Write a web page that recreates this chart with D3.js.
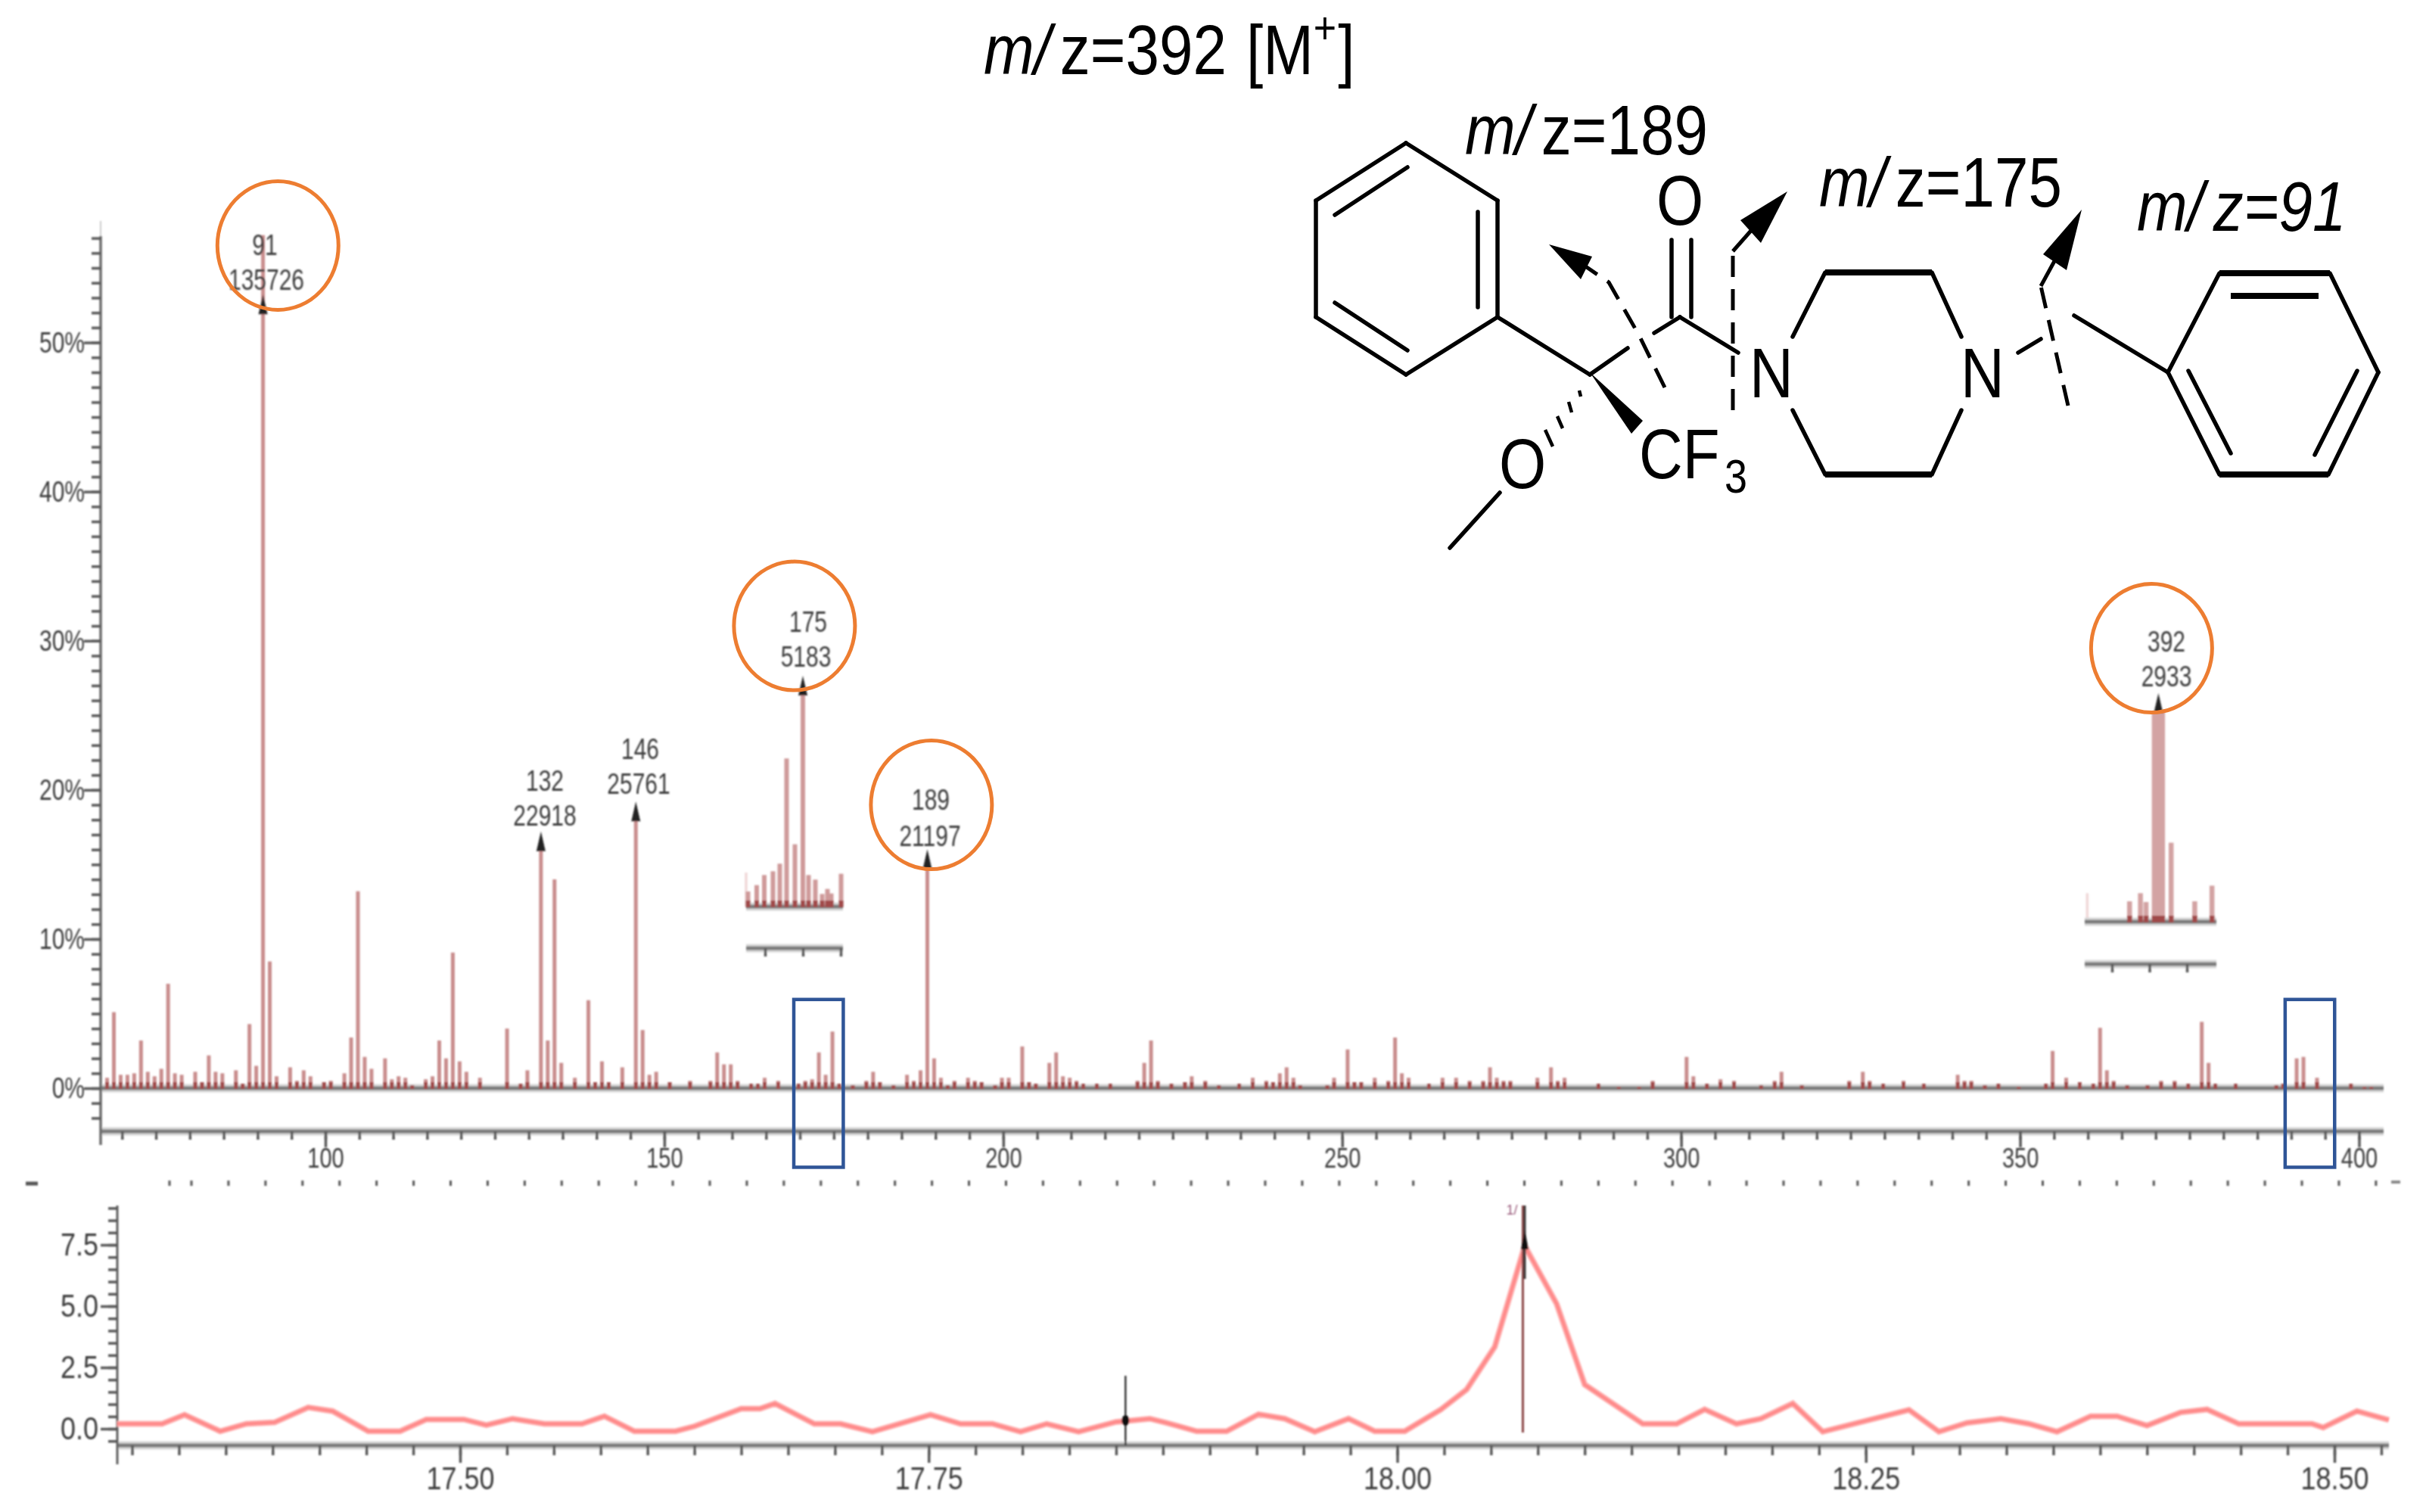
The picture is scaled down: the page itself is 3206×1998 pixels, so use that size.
<!DOCTYPE html>
<html>
<head>
<meta charset="utf-8">
<script src="https://cdn.jsdelivr.net/npm/d3@7"></script>
<style>
  body { margin: 0; background: #fff; }
  svg { display: block; }
  .tick text { font-family: "Liberation Sans", Arial, sans-serif; fill: #3c3c3c; }
  .lab { font-family: "Liberation Sans", Arial, sans-serif; font-size: 30px; fill: #3c3c3c; text-anchor: middle; }
  .mol { font-family: "Liberation Sans", Arial, sans-serif; font-size: 80px; fill: #000; }
</style>
</head>
<body>
<div id="chart"></div>
<script>
// main mass spectrum, m/z and %
const mainMz = [68,69,70,71,72,73,74,75,76,77,78,79,81,82,83,84,85,87,88,89,90,91,92,93,95,96,97,98,100,101,103,104,105,106,107,109,110,111,112,113,115,116,117,118,119,120,121,123,127,129,130,132,133,134,135,137,139,140,141,142,144,146,147,148,149,151,154,157,158,159,160,161,163,164,165,167,170,171,172,173,174,175,
  176,178,180,181,182,184,186,187,188,189,190,191,192,193,195,196,197,199,200,201,203,204,205,207,208,209,210,211,212,214,216,220,221,222,223,225,227,228,230,232,235,237,239,240,241,242,243,244,248,249,251,252,253,255,257,258,259,260,263,265,267,269,271,272,273,274,275,279,281,282,283,288,291,294,296,
  301,302,304,306,308,312,314,315,318,325,327,328,330,333,336,341,342,343,345,347,350,354,355,357,359,361,362,363,364,366,369,371,373,375,377,378,379,382,388,389,391,392,394,399,401,402];
const mainPct = [0.7,5.1,0.9,0.9,1.0,3.2,1.1,0.8,1.3,7.0,1.0,0.9,1.1,0.4,2.2,1.1,1.0,1.2,0.3,4.3,1.5,57.2,8.5,0.8,1.4,0.5,1.2,0.8,0.4,0.5,1.0,3.4,13.2,2.1,1.3,2.0,0.6,0.8,0.7,0.2,0.6,0.8,3.2,2.0,9.1,1.8,1.1,0.7,4.0,0.3,1.2,16.0,3.2,14.0,1.7,0.7,5.9,0.4,1.8,0.4,1.4,18.0,3.9,0.9,1.1,0.4,0.5,0.5,2.4,1.6,1.6,0.5,0.3,0.3,0.7,0.5,0.3,0.5,0.6,2.4,0.9,3.8,
  0.3,0.2,0.5,1.1,0.4,0.2,0.9,0.5,1.2,14.8,2.0,0.7,0.2,0.5,0.7,0.5,0.4,0.2,0.7,0.7,2.8,0.4,0.3,1.7,2.4,0.8,0.7,0.5,0.3,0.3,0.3,0.5,1.7,3.2,0.5,0.3,0.4,0.8,0.5,0.2,0.3,0.7,0.5,0.4,1.0,1.4,0.7,0.2,0.2,0.7,2.6,0.4,0.4,0.7,0.5,3.4,1.0,0.7,0.3,0.7,0.7,0.5,0.5,1.4,0.7,0.5,0.5,0.7,1.4,0.5,0.7,0.3,0.1,0.1,0.5,
  2.1,0.8,0.3,0.6,0.5,0.2,0.5,1.1,0.2,0.5,1.1,0.5,0.3,0.5,0.3,0.9,0.5,0.5,0.2,0.3,0.1,0.3,2.5,0.7,0.4,0.3,4.05,1.2,0.5,0.2,0.2,0.5,0.5,0.3,4.45,1.7,0.3,0.3,0.2,0.3,2.0,2.1,0.7,0.3,0.1,0.1];

const xMajor = [100,150,200,250,300,350,400];
const yMajor = [0,10,20,30,40,50];

// peak labels: m/z, counts, and the % where the arrow sits
const labelMz = [91,132,146,175,189,392];
const labelCounts = ["135726","22918","25761","5183","21197","2933"];
const arrowMz = [91,132,146,189];
const arrowPct = [52,16,18,14.8];

// zoomed in bits of the spectrum
const inset175Mz = [173.55,173.78,173.98,174.21,174.39,174.57,174.79,175,175.15,175.33,175.51,175.65,175.75,176.01];
const inset175Counts = [369,523,769,861,1046,3610,1519,5183,769,658,308,430,320,800];
const inset392Mz = [391.47,391.76,391.91,392.13,392.24,392.35,392.58,393.21,393.67];
const inset392Counts = [285,398,275,2933,2933,2933,1102,285,503];

// chromatogram
const tic = [17.317,17.341,17.353,17.372,17.386,17.401,17.419,17.432,17.451,17.468,17.482,17.502,17.514,17.528,17.545,17.565,17.577,17.593,17.615,17.625,17.650,17.660,17.668,17.689,17.703,17.720,17.751,17.767,17.784,17.799,17.813,17.830,17.850,17.868,17.876,17.893,17.909,17.926,17.940,17.956,17.974,17.988,18.004,18.023,18.037,18.052,18.068,18.085,18.100,18.131,18.149,18.164,18.181,18.194,18.211,18.227,18.273,18.289,18.304,18.322,18.337,18.352,18.370,18.384,18.400,18.418,18.432,18.449,18.488,18.494,18.512,18.529];
const ticVal = [0.2,0.2,0.57,-0.1,0.2,0.26,0.87,0.72,-0.1,-0.1,0.38,0.38,0.15,0.41,0.2,0.2,0.51,-0.1,-0.1,0.1,0.82,0.82,1.03,0.2,0.2,-0.12,0.57,0.2,0.2,-0.12,0.2,-0.12,0.28,0.41,0.26,-0.1,-0.1,0.59,0.41,-0.12,0.41,-0.1,-0.1,0.77,1.6,3.34,7.46,5.1,1.8,0.2,0.2,0.79,0.2,0.41,1.03,-0.12,0.77,-0.12,0.24,0.41,0.2,-0.12,0.51,0.51,0.13,0.67,0.79,0.2,0.2,0.05,0.72,0.36];
const ticTicks = [17.50,17.75,18.00,18.25,18.50];
const ticYTicks = [0,2.5,5,7.5];

const W = 3206, H = 1998;
const svg = d3.select("#chart").append("svg").attr("width", W).attr("height", H);

const defs = svg.append("defs");
defs.append("filter").attr("id", "soft").append("feGaussianBlur").attr("stdDeviation", 1);

const x = d3.scaleLinear().domain([100, 400]).range([430, 3117.5]);
const y = d3.scaleLinear().domain([0, 50]).range([1438, 452.6]);
const tx = d3.scaleLinear().domain([17.5, 18.5]).range([608, 3085]);
const ty = d3.scaleLinear().domain([0, 7.5]).range([1888, 1645]);
const ix175 = d3.scaleLinear().domain([174, 176]).range([1011, 1111]);
const iy175 = d3.scaleLinear().domain([0, 5183]).range([1198, 917]);
const ix392 = d3.scaleLinear().domain([391, 393]).range([2791, 2890]);
const iy392 = d3.scaleLinear().domain([0, 2933]).range([1218, 940]);

const plot = svg.append("g").attr("filter", "url(#soft)");

// grey axis band with a pale edge
function band(g, x1, x2, yy) {
  g.append("line").attr("x1", x1).attr("x2", x2).attr("y1", yy).attr("y2", yy).attr("stroke", "#d8d8d8").attr("stroke-width", 11);
  g.append("line").attr("x1", x1).attr("x2", x2).attr("y1", yy).attr("y2", yy).attr("stroke", "#7c7c7c").attr("stroke-width", 5);
}

// the picture's numbers are tall and thin, so stretch the tick text
function styleAxis(g, size, sy) {
  g.select(".domain").remove();
  g.selectAll(".tick line").attr("stroke", "#585858").attr("stroke-width", 3.5);
  g.selectAll(".tick text").style("font-size", size + "px").each(function () {
    const t = d3.select(this);
    const px = +t.attr("x") || 0, py = +t.attr("y") || 0;
    t.attr("x", 0).attr("y", 0).attr("transform", `translate(${px},${py}) scale(1,${sy || 1})`);
  });
}

band(plot, 133, 3150, y(0));
band(plot, 133, 3150, 1495);

plot.append("line").attr("x1", 133).attr("x2", 133).attr("y1", 312).attr("y2", 1513).attr("stroke", "#6a6a6a").attr("stroke-width", 3.5);
plot.append("line").attr("x1", 133).attr("x2", 133).attr("y1", 292).attr("y2", 312).attr("stroke", "#ccc").attr("stroke-width", 2);

// main x axis
plot.append("g").attr("transform", "translate(0,1495)")
  .call(d3.axisBottom(x).tickValues(d3.range(70, 401, 5)).tickSize(11).tickFormat(""))
  .call(g => styleAxis(g, 29));
plot.append("g").attr("transform", "translate(0,1495)")
  .call(d3.axisBottom(x).tickValues(xMajor).tickSize(21).tickPadding(1))
  .call(g => styleAxis(g, 29, 1.25));

// main y axis
plot.append("g").attr("transform", "translate(133,0)")
  .call(d3.axisLeft(y).tickValues(d3.range(-2, 58)).tickSize(12).tickFormat(""))
  .call(g => styleAxis(g, 29));
plot.append("g").attr("transform", "translate(133,0)")
  .call(d3.axisLeft(y).tickValues(yMajor).tickSize(22).tickPadding(-1).tickFormat(d => d + "%"))
  .call(g => styleAxis(g, 30, 1.3));

// spectrum
function sticks(g, mz, val, sx, sy, width, colour) {
  g.selectAll(null).data(mz).enter().append("line")
    .attr("x1", d => sx(d)).attr("x2", d => sx(d))
    .attr("y1", sy(0)).attr("y2", (d, i) => sy(val[i]))
    .attr("stroke", colour).attr("stroke-width", width);
  g.selectAll(null).data(mz).enter().append("line")
    .attr("x1", d => sx(d)).attr("x2", d => sx(d))
    .attr("y1", sy(0) + 1).attr("y2", (d, i) => Math.max(sy(val[i]), sy(0) - 8))
    .attr("stroke", "#a04a4a").attr("stroke-width", width);
}
// picture's sticks sit a little left of the axis numbers
const xPeak = d => x(d - 0.2);
sticks(plot, mainMz, mainPct, xPeak, y, 5, "#c98d8d");

// pale stubs where the insets were cut out of the spectrum
plot.append("line").attr("x1", ix175(173.5)).attr("x2", ix175(173.5)).attr("y1", iy175(0)).attr("y2", iy175(830)).attr("stroke", "#f0d8d8").attr("stroke-width", 3.5);
plot.append("line").attr("x1", ix392(390.34)).attr("x2", ix392(390.34)).attr("y1", iy392(0)).attr("y2", iy392(398)).attr("stroke", "#f0d8d8").attr("stroke-width", 3.5);

// inset m/z=175
band(plot, 986, 1114, iy175(0));
band(plot, 986, 1114, 1253);
plot.append("g").attr("transform", "translate(0,1253)")
  .call(d3.axisBottom(ix175).tickValues([174, 175, 176]).tickSize(11).tickFormat(""))
  .call(g => styleAxis(g, 30));
sticks(plot, inset175Mz, inset175Counts, ix175, iy175, 6, "#cf9a9a");

// inset m/z=392
band(plot, 2755, 2929, iy392(0));
band(plot, 2755, 2929, 1274);
plot.append("g").attr("transform", "translate(0,1274)")
  .call(d3.axisBottom(ix392).tickValues([391, 392, 393]).tickSize(11).tickFormat(""))
  .call(g => styleAxis(g, 30));
sticks(plot, inset392Mz, inset392Counts, ix392, iy392, 6.5, "#d3a3a3");

// arrows on labelled peaks
function arrow(g, px, py) {
  g.append("path").attr("d", `M${px},${py - 24} L${px + 6},${py + 2} L${px - 6},${py + 2} Z`).attr("fill", "#222");
}
arrowMz.forEach((m, i) => arrow(plot, xPeak(m), y(arrowPct[i])));
arrow(plot, ix175(175), iy175(5183));
arrow(plot, ix392(392.24), iy392(2933));

// peak labels
const labelX = [[350, 352], [720, 720], [846, 844], [1068, 1065], [1230, 1229], [2863, 2863]];
const labelY = [[323, 369], [1031, 1077], [989, 1035], [821, 867], [1056, 1104], [847, 893]];
function peakLabel(px, py, txt) {
  plot.append("text").attr("class", "lab")
    .attr("transform", `translate(${px},${py}) scale(1,1.3)`)
    .attr("dy", "0.36em").text(txt);
}
labelMz.forEach((m, i) => {
  peakLabel(labelX[i][0], labelY[i][0], m);
  peakLabel(labelX[i][1], labelY[i][1], labelCounts[i]);
});

// cut off axis between the two panes
const stubs = [224].concat(d3.range(253, 3141, 48.93));
plot.selectAll(null).data(stubs).enter().append("line")
  .attr("x1", d => d).attr("x2", d => d).attr("y1", 1560).attr("y2", 1567)
  .attr("stroke", "#555").attr("stroke-width", 3);
plot.append("line").attr("x1", 34).attr("x2", 50).attr("y1", 1564).attr("y2", 1564).attr("stroke", "#555").attr("stroke-width", 5);
plot.append("line").attr("x1", 3160).attr("x2", 3172).attr("y1", 1562).attr("y2", 1562).attr("stroke", "#888").attr("stroke-width", 4);

// chromatogram axes
band(plot, 155, 3157, 1910);
plot.append("line").attr("x1", 155).attr("x2", 155).attr("y1", 1593).attr("y2", 1935).attr("stroke", "#5c5c5c").attr("stroke-width", 3);
plot.append("g").attr("transform", "translate(0,1910)")
  .call(d3.axisBottom(tx).tickValues(d3.range(17.325, 18.53, 0.025)).tickSize(13).tickFormat(""))
  .call(g => styleAxis(g, 36));
plot.append("g").attr("transform", "translate(0,1910)")
  .call(d3.axisBottom(tx).tickValues(ticTicks).tickSize(23).tickPadding(5).tickFormat(d3.format(".2f")))
  .call(g => styleAxis(g, 36, 1.18));
plot.append("g").attr("transform", "translate(155,0)")
  .call(d3.axisLeft(ty).tickValues(d3.range(-0.5, 9.1, 0.5)).tickSize(12).tickFormat(""))
  .call(g => styleAxis(g, 36));
plot.append("g").attr("transform", "translate(155,0)")
  .call(d3.axisLeft(ty).tickValues(ticYTicks).tickSize(22).tickPadding(3).tickFormat(d3.format(".1f")))
  .call(g => styleAxis(g, 36, 1.18));

// chromatogram trace
const trace = d3.line().x((d, i) => tx(tic[i])).y((d, i) => ty(ticVal[i]));
plot.append("path").datum(tic).attr("d", trace).attr("fill", "none").attr("stroke", "#ffb4b4").attr("stroke-width", 8);
plot.append("path").datum(tic).attr("d", trace).attr("fill", "none").attr("stroke", "#ff8a8a").attr("stroke-width", 4.5);

// retention time markers
plot.append("line").attr("x1", tx(18.067)).attr("x2", tx(18.067)).attr("y1", 1593).attr("y2", 1893).attr("stroke", "#8c4a4a").attr("stroke-width", 3);
plot.append("line").attr("x1", tx(18.068)).attr("x2", tx(18.068)).attr("y1", 1593).attr("y2", 1690).attr("stroke", "#333").attr("stroke-width", 3);
plot.append("path").attr("d", `M${tx(18.068)},${1625} l5,26 l-10,0 Z`).attr("fill", "#111");
plot.append("text").attr("x", tx(18.067) - 22).attr("y", 1605).attr("fill", "#9a5c7c").style("font-size", "18px").style("font-family", "Liberation Sans").text("1/");
plot.append("line").attr("x1", tx(17.855)).attr("x2", tx(17.855)).attr("y1", 1818).attr("y2", 1910).attr("stroke", "#333").attr("stroke-width", 2.5);
plot.append("ellipse").attr("cx", tx(17.855)).attr("cy", 1877).attr("rx", 5).attr("ry", 7).attr("fill", "#111");

// orange rings round the fragments
const ringMz = [93, 169.2, 189.4, 369.4];
const ringPct = [56.5, 31, 19, 29.5];
svg.selectAll(null).data(ringMz).enter().append("ellipse")
  .attr("cx", d => x(d)).attr("cy", (d, i) => y(ringPct[i]))
  .attr("rx", 80).attr("ry", 85)
  .attr("fill", "none").attr("stroke", "#ed7d31").attr("stroke-width", 5);

// blue boxes
const boxMz = [[169.1, 176.4], [389.1, 396.4]];
svg.selectAll(null).data(boxMz).enter().append("rect")
  .attr("x", d => x(d[0])).attr("width", d => x(d[1]) - x(d[0]))
  .attr("y", y(5.95)).attr("height", y(-5.3) - y(5.95))
  .attr("fill", "none").attr("stroke", "#2f5597").attr("stroke-width", 4.5);

// text with the same tall stretch as the picture
function molText(px, py, parts, anchor) {
  const t = svg.append("text").attr("class", "mol").attr("transform", `translate(${px},${py}) scale(1,1.15)`)
    .attr("text-anchor", anchor || "start");
  parts.forEach(p => {
    const s = t.append("tspan").text(p.t);
    if (p.i) s.style("font-style", "italic");
    if (p.dx) s.attr("dx", p.dx);
    if (p.dy) s.attr("dy", p.dy);
    if (p.size) s.style("font-size", p.size + "px");
  });
  return t;
}
const mzPrefix = [{ t: "m/", i: true }, { t: "z", dx: 12 }];
molText(1300, 98, mzPrefix.concat([{ t: "=392" }, { t: "[M", dx: 26 }, { t: "+", size: 52, dy: -36 }, { t: "]", dy: 36, dx: 2 }]));
molText(1936, 204, mzPrefix.concat([{ t: "=189" }]));
molText(2404, 273, mzPrefix.concat([{ t: "=175" }]));
molText(2824, 305, [{ t: "m/", i: true }, { t: "z=91", i: true, dx: 12 }]);

molText(2220, 297, [{ t: "O" }], "middle");
molText(2012, 645, [{ t: "O" }], "middle");
molText(2341, 525, [{ t: "N" }], "middle");
molText(2620, 525, [{ t: "N" }], "middle");
molText(2166, 632, [{ t: "CF" }]);
molText(2279, 651, [{ t: "3", size: 54 }]);

// structure drawn by hand
const bonds = [
  [1858,189,1979,265],[1979,265,1979,419],[1979,419,1858,495],[1858,495,1739,419],[1739,419,1739,265],[1739,265,1858,189],
  [1953,280,1953,406],[1764,284,1860,221],[1764,400,1860,463],
  [1979,419,2101,495],[2101,495,2151,460],[2186,440,2220,419],[2220,419,2297,466],
  [2209,317,2209,419],[2235,317,2235,419],
  [1982,651,1916,724],
  [2369,445,2412,360],[2553,360,2592,445],[2369,542,2412,627],[2553,627,2592,542],
  [2667,466,2697,448],[2741,417,2865,492],
  [2865,492,2933,361],[3079,361,3143,492],[3143,492,3077,627],[2933,627,2865,492],
  [2892,490,2948,599],[3115,490,3059,601]
];
const thickBonds = [[2412,360,2553,360],[2412,627,2553,627],[2933,361,3079,361],[2948,391,3064,391],[2933,627,3077,627]];
const hashes = [[2087,516,2089,524],[2073,531,2077,545],[2058,550,2065,566],[2042,568,2052,590]];
svg.selectAll(null).data(bonds).enter().append("line").attr("x1", d => d[0]).attr("y1", d => d[1]).attr("x2", d => d[2]).attr("y2", d => d[3]).attr("stroke", "#000").attr("stroke-width", 5.5).attr("stroke-linecap", "round");
svg.selectAll(null).data(thickBonds).enter().append("line").attr("x1", d => d[0]).attr("y1", d => d[1]).attr("x2", d => d[2]).attr("y2", d => d[3]).attr("stroke", "#000").attr("stroke-width", 8);
svg.selectAll(null).data(hashes).enter().append("line").attr("x1", d => d[0]).attr("y1", d => d[1]).attr("x2", d => d[2]).attr("y2", d => d[3]).attr("stroke", "#000").attr("stroke-width", 4.5);
svg.append("path").attr("d", "M2101,492 L2171,556 L2156,573 Z").attr("fill", "#000");

// cleavage arrows
const dashLine = d3.line();
svg.append("path").attr("d", dashLine([[2200,512],[2166,443],[2126,373],[2085,345]])).attr("fill", "none").attr("stroke", "#000").attr("stroke-width", 5).attr("stroke-dasharray", "28 16");
svg.append("path").attr("d", "M2047,323 L2104,339 L2089,369 Z").attr("fill", "#000");
svg.append("path").attr("d", dashLine([[2290,542],[2290,332]])).attr("fill", "none").attr("stroke", "#000").attr("stroke-width", 5).attr("stroke-dasharray", "28 16");
svg.append("line").attr("x1", 2290).attr("y1", 332).attr("x2", 2320).attr("y2", 298).attr("stroke", "#000").attr("stroke-width", 5);
svg.append("path").attr("d", "M2362,253 L2300,291 L2327,321 Z").attr("fill", "#000");
svg.append("path").attr("d", dashLine([[2733,536],[2697,378]])).attr("fill", "none").attr("stroke", "#000").attr("stroke-width", 5).attr("stroke-dasharray", "28 16");
svg.append("line").attr("x1", 2697).attr("y1", 378).attr("x2", 2715).attr("y2", 345).attr("stroke", "#000").attr("stroke-width", 5);
svg.append("path").attr("d", "M2751,277 L2700,336 L2731,357 Z").attr("fill", "#000");
</script>
</body>
</html>
